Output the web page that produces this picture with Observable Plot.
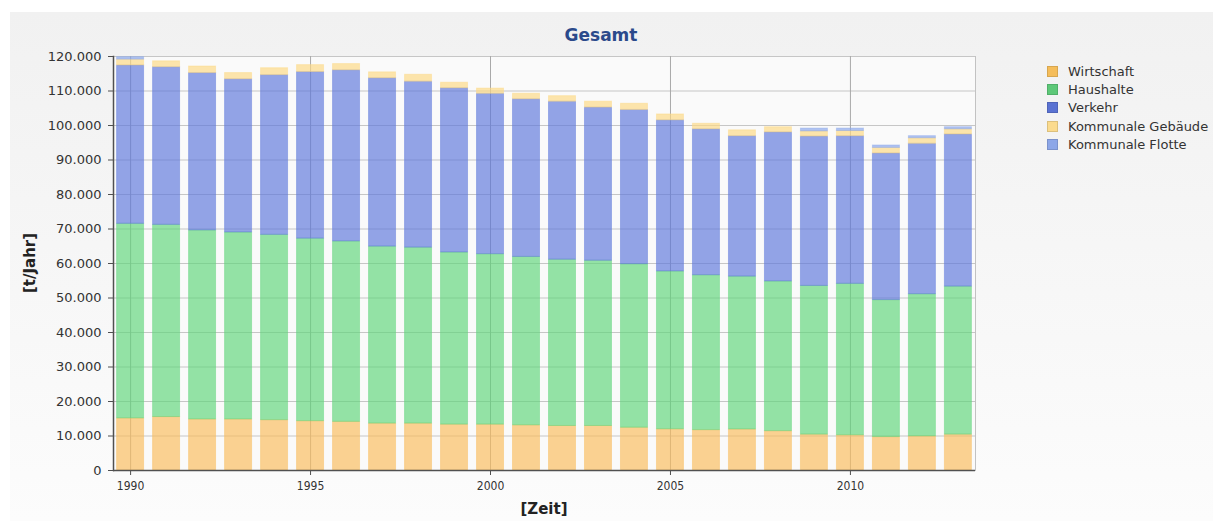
<!DOCTYPE html>
<html>
<head>
<meta charset="utf-8">
<script src="https://cdn.jsdelivr.net/npm/d3@7"></script>
<script src="https://cdn.jsdelivr.net/npm/@observablehq/plot@0.6"></script>
<style>
  html, body { margin: 0; padding: 0; background: #fff; }
  #wrap { position: relative; width: 1213px; height: 521px; overflow: hidden; font-family: "DejaVu Sans", sans-serif; }
  #panel { position: absolute; left: 10px; top: 12px; right: 0; bottom: 0;
           background: linear-gradient(to bottom, #f1f1f1 0%, #f7f7f7 55%, #fcfcfc 100%); }
  #chart { position: absolute; left: 0; top: 0; }
  #title { position: absolute; left: 601px; top: 25px; transform: translateX(-50%);
           font: bold 17px "DejaVu Sans", sans-serif; color: #2b4a8b; white-space: nowrap; }
  #ylab { position: absolute; left: 30px; top: 263px; transform: translate(-50%, -50%) rotate(-90deg);
          font: bold 15px "DejaVu Sans", sans-serif; color: #222; white-space: nowrap; }
  #xlab { position: absolute; left: 544px; top: 500px; transform: translateX(-50%);
          font: bold 15px "DejaVu Sans", sans-serif; color: #222; white-space: nowrap; }
  #legend { position: absolute; left: 1047px; top: 62px; }
  .li { display: flex; align-items: center; height: 18.4px; font: 13px "DejaVu Sans", sans-serif; color: #333; white-space: nowrap; }
  .sw { width: 11px; height: 11px; margin-right: 10px; box-sizing: border-box; border: 1px solid rgba(0,0,0,0.12); }
  g[aria-label="x-axis tick label"] text { font-family: "DejaVu Sans Condensed", "DejaVu Sans", sans-serif; font-size: 12px; }
  g[aria-label="y-axis tick label"] text { font-family: "DejaVu Sans", sans-serif; font-size: 13px; }
</style>
</head>
<body>
<div id="wrap">
  <div id="panel"></div>
  <div id="chart"></div>
  <div id="title">Gesamt</div>
  <div id="ylab">[t/Jahr]</div>
  <div id="xlab">[Zeit]</div>
  <div id="legend"></div>
</div>
<script>
const years = [1990,1991,1992,1993,1994,1995,1996,1997,1998,1999,2000,2001,2002,2003,2004,2005,2006,2007,2008,2009,2010,2011,2012,2013];
const seriesNames = ["Wirtschaft","Haushalte","Verkehr","Kommunale Gebäude","Kommunale Flotte"];
const seriesColors = ["#f9bd5e","#62d57c","#6079dc","#fcd985","#8aa6ea"];
const legendColors = ["#f5bd5a","#5dc878","#5a72d2","#fbdb8e","#8da7e8"];

const wirtschaft = [15100,15500,14800,14800,14600,14300,14100,13600,13600,13300,13300,13100,12900,12900,12400,11950,11700,11900,11400,10400,10200,9700,9900,10400];
const haushalte  = [56400,55700,54800,54200,53700,52900,52300,51300,51000,49900,49400,48800,48200,47900,47400,45750,44900,44300,43400,43100,43900,39700,41200,42900];
const verkehr    = [45900,45700,45600,44400,46300,48300,49600,48800,48100,47600,46500,45700,45800,44400,44700,43800,42300,40700,43200,43300,42800,42500,43600,44100];
const kommGebaeude = [1700,1700,1900,1800,2000,2000,1800,1700,2000,1600,1500,1600,1600,1700,1800,1700,1600,1700,1500,1500,1500,1600,1600,1500];
const kommFlotte = [700,0,0,0,0,0,0,0,0,0,0,0,0,0,0,0,0,0,0,800,700,700,600,600];

const yTicks = [0,10000,20000,30000,40000,50000,60000,70000,80000,90000,100000,110000,120000];
const xTicks = [1990,1995,2000,2005,2010];

const seriesValues = [wirtschaft, haushalte, verkehr, kommGebaeude, kommFlotte];
const data = years.flatMap((yr, i) => seriesNames.map((s, j) => ({year: yr, series: s, value: seriesValues[j][i]})))
  .filter(d => d.value > 0);

const loc = d3.formatLocale({decimal: ",", thousands: ".", grouping: [3], currency: ["", " €"]});
const fmt = loc.format(",");

const plot = Plot.plot({
  width: 1213,
  height: 521,
  marginLeft: 113,
  marginRight: 238,
  marginTop: 56,
  marginBottom: 51,
  x: {type: "band", domain: years, paddingInner: 0.25, paddingOuter: 0.1, round: false, label: null},
  y: {domain: [0, 120000], label: null},
  color: {domain: seriesNames, range: seriesColors},
  style: {background: "transparent", color: "#333", fontFamily: "DejaVu Sans", fontSize: "13px"},
  marks: [
    Plot.frame({fill: "#fafafa", stroke: "#c2c2c2"}),
    Plot.gridY(yTicks, {stroke: "#c6c6c6", strokeOpacity: 1}),
    Plot.gridX(xTicks, {stroke: "#a9a9a9", strokeOpacity: 1}),
    Plot.barY(data, {x: "year", y: "value", fill: "series", order: seriesNames,
      fillOpacity: 0.68, stroke: "series", strokeOpacity: 0.45, strokeWidth: 1}),
    Plot.ruleY([0], {stroke: "#505050", strokeWidth: 1.5}),
    Plot.frame({anchor: "left", stroke: "#505050", strokeWidth: 1.5}),
    Plot.axisY(yTicks, {tickFormat: fmt, tickSize: 5, tickPadding: 7, label: null, stroke: "#505050"}),
    Plot.axisX(xTicks, {tickFormat: d => String(d), tickSize: 5, tickPadding: 6, label: null, stroke: "#505050"})
  ]
});
document.getElementById("chart").appendChild(plot);

const legend = document.getElementById("legend");
seriesNames.forEach((s, i) => {
  const row = document.createElement("div");
  row.className = "li";
  const sw = document.createElement("span");
  sw.className = "sw";
  sw.style.background = legendColors[i];
  row.appendChild(sw);
  row.appendChild(document.createTextNode(s));
  legend.appendChild(row);
});
</script>
</body>
</html>
